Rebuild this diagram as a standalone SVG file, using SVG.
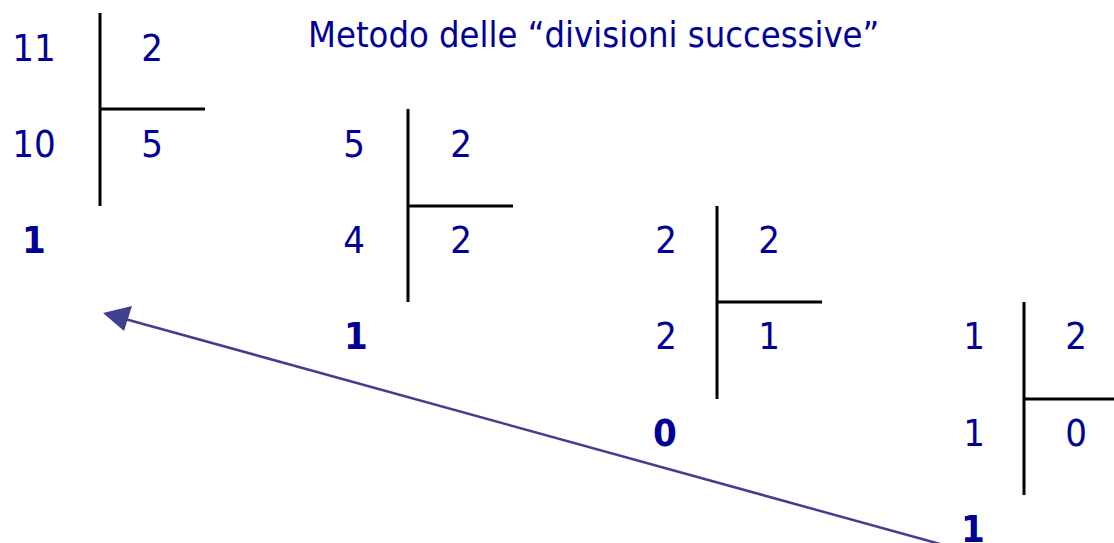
<svg xmlns="http://www.w3.org/2000/svg" width="1114" height="543" viewBox="0 0 1114 543">
<defs>
<style>
text{font-family:"DejaVu Sans Condensed","DejaVu Sans",sans-serif;fill:#000099;font-size:38px;text-anchor:middle}
.b{font-weight:bold}
.t{font-size:36px;text-anchor:start}
.r{stroke:#000;stroke-width:3;fill:none}
</style>
</defs>
<rect width="1114" height="543" fill="#fff"/>
<text class="t" x="308" y="47">Metodo delle “divisioni successive”</text>
<g id="div1">
<path class="r" d="M100,13 V206 M100,109 H205"/>
<text x="34" y="61">11</text><text x="152" y="61">2</text>
<text x="34" y="157">10</text><text x="152" y="157">5</text>
<text class="b" x="34" y="253">1</text>
</g>
<g id="div2">
<path class="r" d="M408,109 V302 M408,206 H513"/>
<text x="354" y="157">5</text><text x="461" y="157">2</text>
<text x="354" y="253">4</text><text x="461" y="253">2</text>
<text class="b" x="356" y="349">1</text>
</g>
<g id="div3">
<path class="r" d="M717,206 V399 M717,302 H822"/>
<text x="666" y="253">2</text><text x="769" y="253">2</text>
<text x="666" y="349">2</text><text x="769" y="349">1</text>
<text class="b" x="665" y="446">0</text>
</g>
<g id="div4">
<path class="r" d="M1024,302 V495 M1024,399 H1114"/>
<text x="974" y="349">1</text><text x="1076" y="349">2</text>
<text x="974" y="446">1</text><text x="1076" y="446">0</text>
<text class="b" x="973" y="542">1</text>
</g>
<g id="connectors">
<line x1="940" y1="544" x2="125" y2="319" stroke="#40408f" stroke-width="2.5"/>
<path d="M103,313 L132,306 L124,331 z" fill="#40408f"/>
</g>
</svg>
